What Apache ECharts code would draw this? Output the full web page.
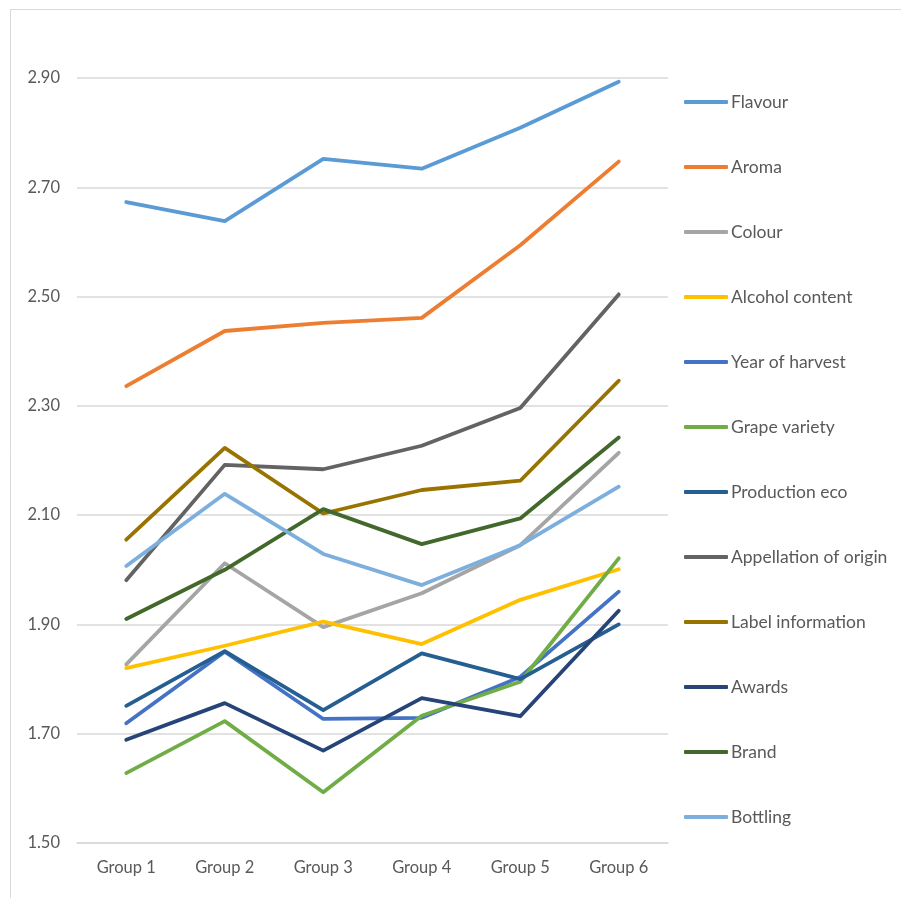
<!DOCTYPE html>
<html>
<head>
<meta charset="utf-8">
<script src="https://cdn.jsdelivr.net/npm/echarts@6/dist/echarts.min.js"></script>
<style>
html,body{margin:0;padding:0;background:#fff;}
#chart{width:901px;height:898px;}
</style>
</head>
<body>
<div id="chart"></div>
<script>
const categories = ['Group 1','Group 2','Group 3','Group 4','Group 5','Group 6'];
const seriesNames = ['Flavour','Aroma','Colour','Alcohol content','Year of harvest','Grape variety','Production eco','Appellation of origin','Label information','Awards','Brand','Bottling'];
const flavour      = [2.673, 2.638, 2.752, 2.734, 2.809, 2.893];
const aroma        = [2.336, 2.437, 2.452, 2.461, 2.594, 2.747];
const colour       = [1.827, 2.012, 1.895, 1.957, 2.045, 2.214];
const alcohol      = [1.820, 1.861, 1.905, 1.864, 1.945, 2.001];
const yearHarvest  = [1.719, 1.850, 1.727, 1.729, 1.804, 1.960];
const grape        = [1.628, 1.723, 1.593, 1.733, 1.795, 2.021];
const productionEco= [1.751, 1.851, 1.743, 1.847, 1.800, 1.900];
const appellation  = [1.981, 2.192, 2.184, 2.227, 2.296, 2.504];
const labelInfo    = [2.055, 2.223, 2.103, 2.146, 2.163, 2.346];
const awards       = [1.689, 1.756, 1.669, 1.765, 1.732, 1.925];
const brand        = [1.910, 2.000, 2.111, 2.047, 2.094, 2.242];
const bottling     = [2.007, 2.139, 2.029, 1.972, 2.045, 2.152];
const seriesData = [flavour, aroma, colour, alcohol, yearHarvest, grape, productionEco, appellation, labelInfo, awards, brand, bottling];
const colors = ['#5B9BD5','#ED7D31','#A5A5A5','#FFC000','#4472C4','#70AD47','#255E91','#636363','#997300','#264478','#43682B','#7CAFDD'];

const FONT = 'Lato, "Open Sans", sans-serif';
const chart = echarts.init(document.getElementById('chart'), null, {renderer:'canvas'});
chart.setOption({
  animation:false,
  backgroundColor:'#fff',
  color: colors,
  graphic:[{type:'rect', shape:{x:10.5,y:9.5,width:1000,height:1000}, style:{fill:'none',stroke:'#D9D9D9',lineWidth:1}, silent:true}],
  grid:{left:77, right:233, top:78, bottom:55},
  legend:{
    orient:'vertical', left:684, top:93, padding:0,
    icon:'roundRect',
    itemWidth:44, itemHeight:4, itemGap:47,
    textStyle:{fontFamily:FONT, fontSize:17.5, color:'#595959', padding:[0,0,0,-2]},
    data: seriesNames
  },
  xAxis:{
    type:'category', data:categories, boundaryGap:true,
    axisLine:{show:true, lineStyle:{color:'#D9D9D9', width:1.5}},
    axisTick:{show:false},
    axisLabel:{fontFamily:FONT, fontSize:16.5, color:'#595959', margin:16}
  },
  yAxis:{
    type:'value', min:1.5, max:2.9, interval:0.2,
    axisLine:{show:false}, axisTick:{show:false},
    splitLine:{lineStyle:{color:'#D9D9D9', width:1.5}},
    axisLabel:{fontFamily:FONT, fontSize:16.5, color:'#595959', margin:17, formatter:v=>v.toFixed(2)}
  },
  series: seriesNames.map((n,i)=>({
    name:n, type:'line', data:seriesData[i], symbol:'none',
    lineStyle:{width:3.8, color:colors[i], cap:'round', join:'round'},
    itemStyle:{color:colors[i]}
  }))
});
</script>
</body>
</html>
